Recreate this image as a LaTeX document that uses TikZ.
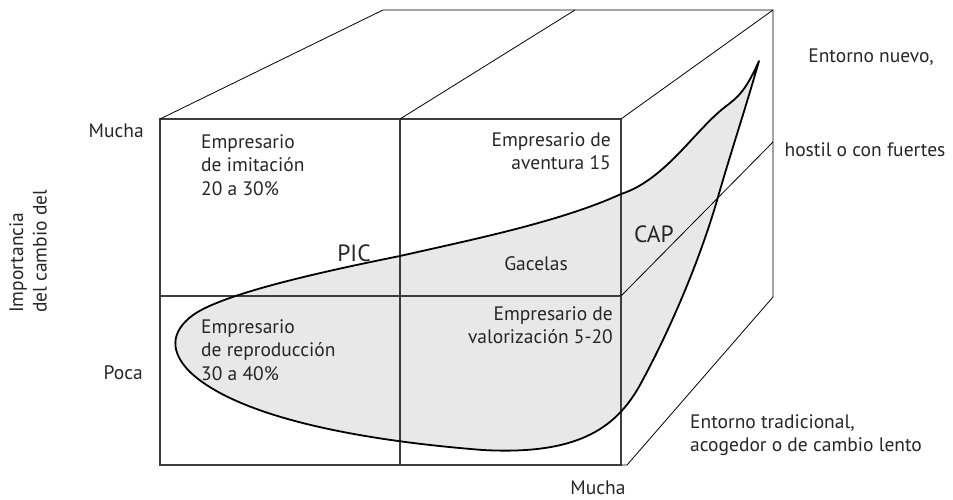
\documentclass[tikz,border=0pt]{standalone}
\usepackage{fontspec}
\setmainfont{PT Sans}
\definecolor{zonagris}{RGB}{232,232,232}
\definecolor{lineagris}{RGB}{60,60,60}
\tikzset{
  cara/.style={draw=lineagris,line width=1.1pt},
  arista/.style={draw=black,line width=0.8pt},
  rotulo/.style={inner sep=0pt,font=\fontsize{19.5}{23.5}\selectfont,text=black!85},
  sigla/.style={inner sep=0pt,font=\fontsize{23.5}{26}\selectfont,text=black!85}
}
\begin{document}
\begin{tikzpicture}[x=1pt,y=-1pt]
      \useasboundingbox (0,0) rectangle (953,499);
      \begin{scope}
        % zona sombreada
        \fill[zonagris] (759,61) .. controls (745,92) and (738,97) .. (725,107)
          .. controls (695,130) and (665,180) .. (621,194)
          .. controls (560,222) and (470,240) .. (400,256)
          .. controls (300,276) and (220,296) .. (193,315)
          .. controls (170,332) and (170,352) .. (190,372)
          .. controls (230,410) and (330,438) .. (483,450)
          .. controls (575,455) and (615,430) .. (640,385)
          .. controls (670,330) and (700,260) .. (718,197)
          .. controls (730,155) and (745,110) .. (759,61) -- cycle;

        \draw[cara] (160,119)--(621,119)--(621,465)--(160,465)--cycle;
        \draw[cara] (160,296)-- +(461,0);
        \draw[cara] (400,119)-- +(0,346);
        \draw[arista] (160,119)--(383,10)--(773,10)--(773,297);
        \draw[arista] (400,119)--(575,10);
        \draw[arista] (621,119)--(773,10);
        \draw[arista] (621,296)--(773,142);
        \draw[arista] (621,465)--(627,465)--(773,297);

        \draw[line width=1.8pt,line join=round] (759,61) .. controls (745,92) and (738,97) .. (725,107)
          .. controls (695,130) and (665,180) .. (621,194)
          .. controls (560,222) and (470,240) .. (400,256)
          .. controls (300,276) and (220,296) .. (193,315)
          .. controls (170,332) and (170,352) .. (190,372)
          .. controls (230,410) and (330,438) .. (483,450)
          .. controls (575,455) and (615,430) .. (640,385)
          .. controls (670,330) and (700,260) .. (718,197)
          .. controls (730,155) and (745,110) .. (759,61) -- cycle;
      \end{scope}

      \node[rotulo,anchor=east] (muchaV) at (144,131) {Mucha};
      \node[rotulo,anchor=east] (poca) at (143,373) {Poca};
      \node[rotulo,anchor=west,rotate=90,align=left] (importancia) at (28,313) {Importancia\\del cambio del};

      \node[rotulo,anchor=west,align=left] (imitacion) at (201,165) {Empresario\\de imitación\\20 a 30\%};
      \node[rotulo,anchor=east,align=right] (aventura) at (611,151) {Empresario de\\aventura 15};
      \node[rotulo,anchor=west,align=left] (reproduccion) at (201,350) {Empresario\\de reproducción\\30 a 40\%};
      \node[rotulo,anchor=east,align=right] (valorizacion) at (613,325) {Empresario de\\valorización 5-20};
      \node[rotulo] (gacelas) at (536,264) {Gacelas};
      \node[sigla] (pic) at (354,253) {PIC};
      \node[sigla] (cap) at (654,234) {CAP};

      \node[rotulo] (nuevo) at (871,57) {Entorno nuevo,};
      \node[rotulo] (hostil) at (865,150) {hostil o con fuertes};
      \node[rotulo,anchor=west,align=left] (tradicional) at (690,435) {Entorno tradicional,\\acogedor o de cambio lento};
      \node[rotulo] (muchaH) at (598,488) {Mucha};
    \end{tikzpicture}
\end{document}
